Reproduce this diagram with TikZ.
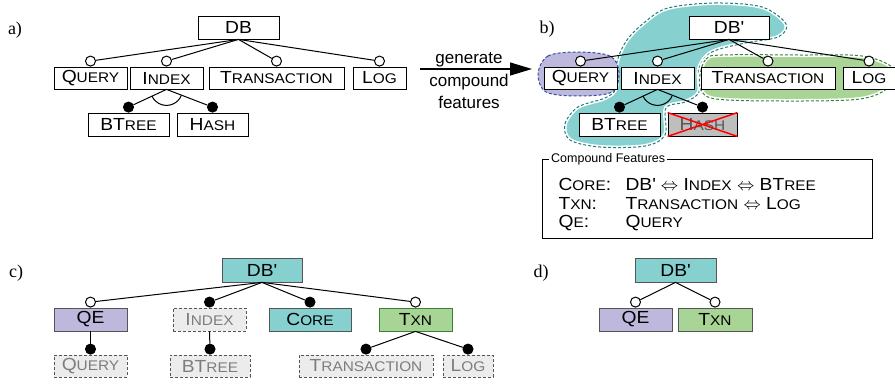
\documentclass[tikz,border=0pt]{standalone}
\usepackage{fontspec}
\setmainfont{Liberation Sans}
\newfontfamily\widefont{Liberation Sans}[FakeStretch=1.1]
\newfontfamily\seriffont{Liberation Serif}
\usetikzlibrary{arrows.meta}

\definecolor{coreteal}{RGB}{134,208,208}
\definecolor{coreline}{RGB}{30,125,125}
\definecolor{qepurple}{RGB}{189,184,220}
\definecolor{qeline}{RGB}{50,80,160}
\definecolor{txngreen}{RGB}{168,213,150}
\definecolor{txnline}{RGB}{55,130,55}
\definecolor{boxgray}{RGB}{85,85,85}
\definecolor{removedfill}{RGB}{236,236,236}
\definecolor{removedtext}{RGB}{125,125,125}
\definecolor{hashfill}{RGB}{190,190,190}

% small caps faked with a smaller size
\newcommand{\smc}[2]{#1{\fontsize{14}{14}\selectfont #2}}
\newcommand{\bicond}{{\fontsize{17}{17}\selectfont$\Leftrightarrow$}}
\newcommand{\DBp}{DB\textquotesingle}

\tikzset{
  feat/.style={draw, line width=0.8pt, fill=white, inner sep=0pt,
    minimum height=23pt, font=\widefont\fontsize{17.5}{17.5}\selectfont},
  optional/.style={circle, draw, line width=1pt, fill=white, inner sep=0pt,
    minimum size=10pt, anchor=south},
  mandatory/.style={optional, fill=black},
  link/.style={line width=1pt},
  removed/.style={feat, dash pattern=on 3pt off 2pt, fill=removedfill,
    draw=boxgray, text=removedtext},
  panel/.style={font=\seriffont\fontsize{18}{18}\selectfont},
  blob/.style={dash pattern=on 3pt off 2pt, line width=1pt},
  legend/.style={anchor=west, font=\widefont\fontsize{17.5}{17.5}\selectfont},
}

\begin{document}
\begin{tikzpicture}[x=1pt, y=1pt]
    \useasboundingbox (0,0) rectangle (895,-385);

    % panel labels
    \node[panel] (la) at (15,-30) {a)};
    \node[panel] (lb) at (547,-29) {b)};
    \node[panel] (lc) at (16,-273) {c)};
    \node[panel] (ld) at (541,-273) {d)};

    % a) original model
    \node[feat, minimum width=81pt] (db) at (238.5,-27.5) {DB};
    \node[feat, minimum width=73pt, minimum height=22pt] (query) at (90.5,-78) {\smc{Q}{UERY}};
    \node[feat, minimum width=73pt, minimum height=22pt] (index) at (166.5,-78) {\smc{I}{NDEX}};
    \node[feat, minimum width=135pt, minimum height=22pt] (trans) at (276.5,-78) {\smc{T}{RANSACTION}};
    \node[feat, minimum width=53pt, minimum height=22pt] (log) at (379.5,-78) {\smc{L}{OG}};
    \node[feat, minimum width=81pt] (btree) at (128.5,-124.5) {BT\smc{}{REE}};
    \node[feat, minimum width=71pt] (hash) at (212.5,-124.5) {\smc{H}{ASH}};

    \node[optional] (oq) at (query.north) {};
    \node[optional] (oi) at (index.north) {};
    \node[optional] (ot) at (trans.north) {};
    \node[optional] (ol) at (log.north) {};
    \node[mandatory] (mb) at (btree.north) {};
    \node[mandatory] (mh) at (hash.north) {};

    \draw[link] (db.south) -- (oq);
    \draw[link] (db.south) -- (oi);
    \draw[link] (db.south) -- (ot);
    \draw[link] (db.south) -- (ol);
    \draw[link] (index.south) -- (mb);
    \draw[link] (index.south) -- (mh);
    \draw[link] ([shift={(204.9:16)}]index.south) arc[start angle=204.9, end angle=337.6, radius=16];

    % transformation arrow
    \coordinate (genstart) at (420,-69);
    \coordinate (genend) at (532,-69);
    \draw[line width=1.2pt, -{Triangle[length=22pt, width=13pt]}] (genstart) -- (genend);
    \node[align=center, font=\fontsize{17}{22.5}\selectfont] (gen) at (469,-81) {generate\\compound\\features};

    % b) compound features
    \draw[line width=4pt, white, fill=coreteal] plot[smooth cycle, tension=0.55] coordinates {
        (668,-8) (715,-3) (762,-7) (786,-24) (778,-37) (745,-43) (712,-52) (699,-68)
        (699,-92) (685,-102) (666,-108) (665,-135) (645,-146) (600,-147) (570,-140)
        (565,-124) (578,-107) (605,-98) (616,-88) (617,-62) (627,-40) (645,-22)};
    \draw[blob, draw=coreline] plot[smooth cycle, tension=0.55] coordinates {
        (668,-8) (715,-3) (762,-7) (786,-24) (778,-37) (745,-43) (712,-52) (699,-68)
        (699,-92) (685,-102) (666,-108) (665,-135) (645,-146) (600,-147) (570,-140)
        (565,-124) (578,-107) (605,-98) (616,-88) (617,-62) (627,-40) (645,-22)};
    \draw[line width=4pt, white, fill=txngreen] plot[smooth cycle, tension=0.55] coordinates {
        (700,-75) (706,-59) (722,-55) (800,-55) (862,-56) (893,-68) (890,-86)
        (860,-99) (780,-101) (716,-99) (701,-90)};
    \draw[blob, draw=txnline] plot[smooth cycle, tension=0.55] coordinates {
        (700,-75) (706,-59) (722,-55) (800,-55) (862,-56) (893,-68) (890,-86)
        (860,-99) (780,-101) (716,-99) (701,-90)};
    \draw[blob, draw=qeline, fill=qepurple] plot[smooth cycle, tension=0.55] coordinates {
        (538,-74) (548,-56) (578,-52) (610,-56) (619,-72) (612,-92) (578,-96) (546,-92)};

    \node[feat, minimum width=80pt] (dbb) at (729,-27.5) {\DBp};
    \node[feat, minimum width=73pt, minimum height=22pt] (queryb) at (580.5,-78) {\smc{Q}{UERY}};
    \node[feat, minimum width=73pt, minimum height=22pt] (indexb) at (657.5,-78) {\smc{I}{NDEX}};
    \node[feat, minimum width=134pt, minimum height=22pt] (transb) at (768,-78) {\smc{T}{RANSACTION}};
    \node[feat, minimum width=52pt, minimum height=22pt] (logb) at (869,-78) {\smc{L}{OG}};
    \node[feat, minimum width=81pt] (btreeb) at (619.5,-124.5) {BT\smc{}{REE}};
    \node[feat, minimum width=69pt, fill=hashfill, text=boxgray] (hashb) at (702.5,-124.5) {\smc{H}{ASH}};
    \draw[red, line width=1.5pt] (hashb.north west) -- (hashb.south east)
        (hashb.north east) -- (hashb.south west);

    \node[optional] (oqb) at (queryb.north) {};
    \node[optional] (oib) at (indexb.north) {};
    \node[optional] (otb) at (transb.north) {};
    \node[optional] (olb) at (logb.north) {};
    \node[mandatory] (mbb) at (btreeb.north) {};
    \node[mandatory] (mhb) at (hashb.north) {};

    \draw[link] (dbb.south) -- (oqb);
    \draw[link] (dbb.south) -- (oib);
    \draw[link] (dbb.south) -- (otb);
    \draw[link] (dbb.south) -- (olb);
    \draw[link] (indexb.south) -- (mbb);
    \draw[link] (indexb.south) -- (mhb);
    \draw[link] ([shift={(204.9:16)}]indexb.south) arc[start angle=204.9, end angle=337.6, radius=16];

    % legend of compound features
    \draw[line width=0.8pt] (542,-159) rectangle (872,-238);
    \node[anchor=west, fill=white, inner sep=2pt, font=\fontsize{12.5}{13}\selectfont] (cftitle) at (549,-159) {Compound Features};
    \node[legend] (kcore) at (555,-184) {\smc{C}{ORE}:};
    \node[legend] (ktxn) at (555,-203.5) {\smc{T}{XN}:};
    \node[legend] (kqe) at (555,-223) {\smc{Q}{E}:};
    \node[legend] (vcore) at (622,-184) {\DBp{} \bicond{} \smc{I}{NDEX} \bicond{} BT\smc{}{REE}};
    \node[legend] (vtxn) at (622,-203.5) {\smc{T}{RANSACTION} \bicond{} \smc{L}{OG}};
    \node[legend] (vqe) at (622,-223) {\smc{Q}{UERY}};

    % c) model with compound features
    \node[feat, minimum width=80pt, minimum height=24pt, fill=coreteal, draw=boxgray] (dbc) at (262,-270) {\DBp};
    \node[feat, minimum width=73pt, fill=qepurple, draw=boxgray] (qec) at (90.5,-319.5) {QE};
    \node[removed, minimum width=73pt] (indexc) at (209.5,-319.5) {\smc{I}{NDEX}};
    \node[feat, minimum width=82pt, fill=coreteal, draw=boxgray] (corec) at (310,-319.5) {\smc{C}{ORE}};
    \node[feat, minimum width=73pt, fill=txngreen, draw=txnline] (txnc) at (415.5,-319.5) {\smc{T}{XN}};
    \node[removed, minimum width=73pt, minimum height=22pt] (queryc) at (90.5,-366) {\smc{Q}{UERY}};
    \node[removed, minimum width=80pt, minimum height=22pt] (btreec) at (210,-366) {BT\smc{}{REE}};
    \node[removed, minimum width=134pt, minimum height=22pt] (transc) at (366,-366) {\smc{T}{RANSACTION}};
    \node[removed, minimum width=50pt, minimum height=22pt] (logc) at (468,-366) {\smc{L}{OG}};

    \node[optional] (oqc) at (qec.north) {};
    \node[mandatory] (mic) at (indexc.north) {};
    \node[mandatory] (mcc) at (corec.north) {};
    \node[optional] (otc) at (txnc.north) {};
    \node[mandatory] (mqc) at (queryc.north) {};
    \node[mandatory] (mbc) at (btreec.north) {};
    \node[mandatory] (mtc) at (transc.north) {};
    \node[mandatory] (mlc) at (logc.north) {};

    \draw[link] (dbc.south) -- (oqc);
    \draw[link] (dbc.south) -- (mic);
    \draw[link] (dbc.south) -- (mcc);
    \draw[link] (dbc.south) -- (otc);
    \draw[link] (qec.south) -- (mqc);
    \draw[link] (indexc.south) -- (mbc);
    \draw[link] (txnc.south) -- (mtc);
    \draw[link] (txnc.south) -- (mlc);

    % d) reduced model
    \node[feat, minimum width=81pt, minimum height=24pt, fill=coreteal, draw=boxgray] (dbd) at (675.5,-270) {\DBp};
    \node[feat, minimum width=73pt, fill=qepurple, draw=boxgray] (qed) at (635.5,-319.5) {QE};
    \node[feat, minimum width=74pt, fill=txngreen, draw=boxgray] (txnd) at (715,-319.5) {\smc{T}{XN}};

    \node[optional] (oqd) at (qed.north) {};
    \node[optional] (otd) at (txnd.north) {};

    \draw[link] (dbd.south) -- (oqd);
    \draw[link] (dbd.south) -- (otd);

\end{tikzpicture}
\end{document}
